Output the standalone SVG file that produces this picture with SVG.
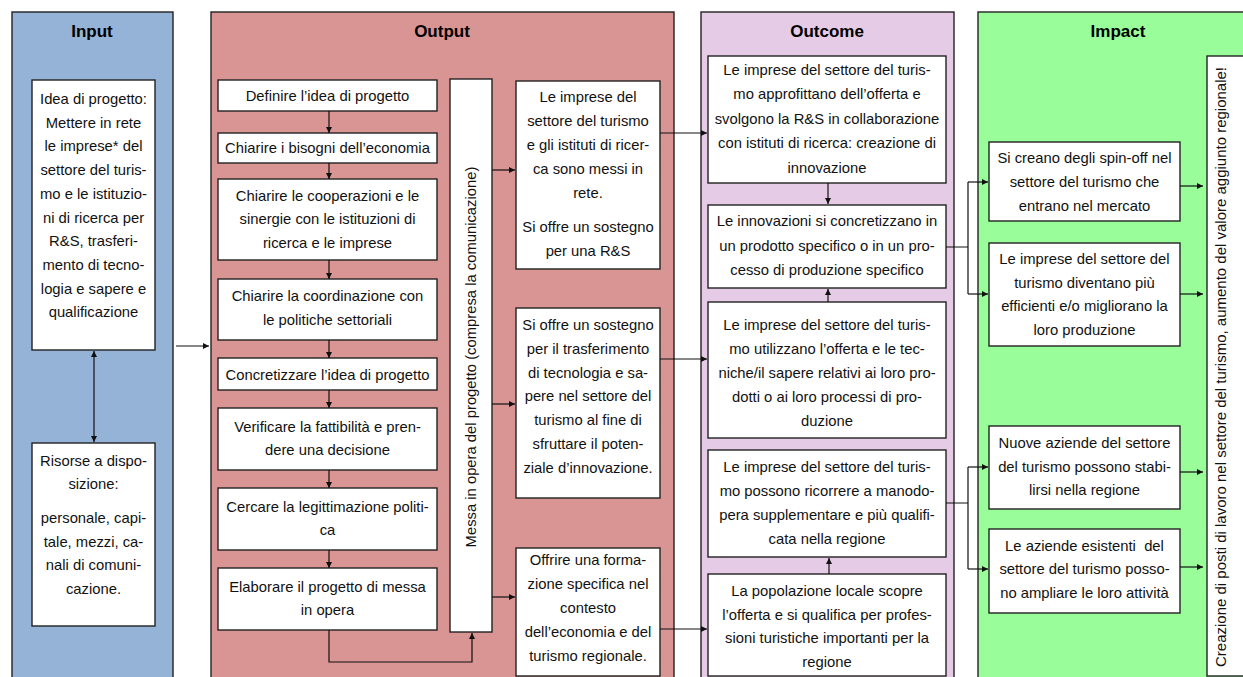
<svg xmlns="http://www.w3.org/2000/svg" width="1243" height="677" viewBox="0 0 1243 677">
<style>
.col{stroke:#222;stroke-width:1.4}
.box{fill:#fff;stroke:#222;stroke-width:1.4}
.t{font-family:"Liberation Sans",Arial,sans-serif;font-size:14.8px;fill:#111;text-anchor:middle}
.h{font-family:"Liberation Sans",Arial,sans-serif;font-size:17px;font-weight:bold;fill:#000;text-anchor:middle}
.c{fill:none;stroke:#111;stroke-width:1.2}
</style>
<defs>
<marker id="ah" viewBox="0 0 6 6" refX="6" refY="3" markerWidth="6" markerHeight="6" markerUnits="userSpaceOnUse" orient="auto-start-reverse">
<path d="M0,0 L6,3 L0,6 z" fill="#111"/>
</marker>
</defs>
<rect width="1243" height="677" fill="#fff"/>

<g id="col-input">
<rect class="col" x="12" y="12" width="161" height="690" fill="#95b3d7"/>
<text class="h" x="92" y="37">Input</text>
</g>
<g id="col-output">
<rect class="col" x="211" y="12" width="463" height="690" fill="#d99594"/>
<text class="h" x="442" y="37">Output</text>
</g>
<g id="col-outcome">
<rect class="col" x="701" y="12" width="253" height="690" fill="#e5cbe5"/>
<text class="h" x="827" y="37">Outcome</text>
</g>
<g id="col-impact">
<rect class="col" x="978" y="12" width="290" height="690" fill="#99fd99"/>
<text class="h" x="1118" y="37">Impact</text>
</g>

<g id="in1">
<rect class="box" x="32" y="80" width="123" height="270"/>
<text class="t" x="93.5"><tspan x="93.5" y="104">Idea di progetto:</tspan><tspan x="93.5" y="127.7">Mettere in rete</tspan><tspan x="93.5" y="151.4">le imprese* del</tspan><tspan x="93.5" y="175.1">settore del turis-</tspan><tspan x="93.5" y="198.8">mo e le istituzio-</tspan><tspan x="93.5" y="222.5">ni di ricerca per</tspan><tspan x="93.5" y="246.2">R&amp;S, trasferi-</tspan><tspan x="93.5" y="269.9">mento di tecno-</tspan><tspan x="93.5" y="293.6">logia e sapere e</tspan><tspan x="93.5" y="317.3">qualificazione</tspan></text>
</g>
<g id="in2">
<rect class="box" x="32" y="443" width="123" height="183"/>
<text class="t"><tspan x="93.5" y="466">Risorse a dispo-</tspan><tspan x="93.5" y="489">sizione:</tspan><tspan x="93.5" y="523">personale, capi-</tspan><tspan x="93.5" y="547">tale, mezzi, ca-</tspan><tspan x="93.5" y="570">nali di comuni-</tspan><tspan x="93.5" y="594">cazione.</tspan></text>
</g>

<g id="out1"><rect class="box" x="218" y="80" width="219" height="31"/>
<text class="t" x="327.5" y="101">Definire l’idea di progetto</text></g>
<g id="out2"><rect class="box" x="218" y="133" width="219" height="30"/>
<text class="t" x="327.5" y="153">Chiarire i bisogni dell’economia</text></g>
<g id="out3"><rect class="box" x="218" y="179" width="219" height="81"/>
<text class="t"><tspan x="327.5" y="200.5">Chiarire le cooperazioni e le</tspan><tspan x="327.5" y="224">sinergie con le istituzioni di</tspan><tspan x="327.5" y="248">ricerca e le imprese</tspan></text></g>
<g id="out4"><rect class="box" x="218" y="279" width="219" height="61"/>
<text class="t"><tspan x="327.5" y="301">Chiarire la coordinazione con</tspan><tspan x="327.5" y="324.5">le politiche settoriali</tspan></text></g>
<g id="out5"><rect class="box" x="218" y="358" width="219" height="32"/>
<text class="t" x="327.5" y="380">Concretizzare l’idea di progetto</text></g>
<g id="out6"><rect class="box" x="218" y="408" width="219" height="62"/>
<text class="t"><tspan x="327.5" y="432">Verificare la fattibilità e pren-</tspan><tspan x="327.5" y="454.5">dere una decisione</tspan></text></g>
<g id="out7"><rect class="box" x="218" y="488" width="219" height="62"/>
<text class="t"><tspan x="327.5" y="512">Cercare la legittimazione politi-</tspan><tspan x="327.5" y="535">ca</tspan></text></g>
<g id="out8"><rect class="box" x="218" y="568" width="219" height="62"/>
<text class="t"><tspan x="327.5" y="592">Elaborare il progetto di messa</tspan><tspan x="327.5" y="614.5">in opera</tspan></text></g>

<g id="impl"><rect class="box" x="450" y="79" width="42" height="553"/>
<text class="t" transform="translate(476,357) rotate(-90)" x="0" y="0">Messa in opera del progetto (compresa la comunicazione)</text></g>

<g id="outA"><rect class="box" x="516" y="81" width="144" height="188"/>
<text class="t"><tspan x="588" y="102">Le imprese del</tspan><tspan x="588" y="126">settore del turismo</tspan><tspan x="588" y="150">e gli istituti di ricer-</tspan><tspan x="588" y="174">ca sono messi in</tspan><tspan x="588" y="198">rete.</tspan><tspan x="588" y="232">Si offre un sostegno</tspan><tspan x="588" y="256">per una R&amp;S</tspan></text></g>
<g id="outB"><rect class="box" x="516" y="308" width="144" height="190"/>
<text class="t"><tspan x="588" y="330">Si offre un sostegno</tspan><tspan x="588" y="354">per il trasferimento</tspan><tspan x="588" y="378">di tecnologia e sa-</tspan><tspan x="588" y="401">pere nel settore del</tspan><tspan x="588" y="425">turismo al fine di</tspan><tspan x="588" y="449">sfruttare il poten-</tspan><tspan x="588" y="473">ziale d’innovazione.</tspan></text></g>
<g id="outC"><rect class="box" x="516" y="548" width="144" height="128"/>
<text class="t"><tspan x="588" y="565">Offrire una forma-</tspan><tspan x="588" y="589">zione specifica nel</tspan><tspan x="588" y="613">contesto</tspan><tspan x="588" y="637">dell’economia e del</tspan><tspan x="588" y="661">turismo regionale.</tspan></text></g>

<g id="oc1"><rect class="box" x="708" y="56" width="238" height="127"/>
<text class="t"><tspan x="827" y="75">Le imprese del settore del turis-</tspan><tspan x="827" y="99">mo approfittano dell’offerta e</tspan><tspan x="827" y="123.5">svolgono la R&amp;S in collaborazione</tspan><tspan x="827" y="148">con istituti di ricerca: creazione di</tspan><tspan x="827" y="172.5">innovazione</tspan></text></g>
<g id="oc2"><rect class="box" x="708" y="205" width="238" height="83"/>
<text class="t"><tspan x="827" y="226">Le innovazioni si concretizzano in</tspan><tspan x="827" y="250.5">un prodotto specifico o in un pro-</tspan><tspan x="827" y="275">cesso di produzione specifico</tspan></text></g>
<g id="oc3"><rect class="box" x="708" y="302" width="238" height="136"/>
<text class="t"><tspan x="827" y="330">Le imprese del settore del turis-</tspan><tspan x="827" y="354">mo utilizzano l’offerta e le tec-</tspan><tspan x="827" y="378">niche/il sapere relativi ai loro pro-</tspan><tspan x="827" y="402">dotti o ai loro processi di pro-</tspan><tspan x="827" y="426">duzione</tspan></text></g>
<g id="oc4"><rect class="box" x="708" y="450" width="238" height="107"/>
<text class="t"><tspan x="827" y="472">Le imprese del settore del turis-</tspan><tspan x="827" y="496">mo possono ricorrere a manodo-</tspan><tspan x="827" y="520">pera supplementare e più qualifi-</tspan><tspan x="827" y="543.5">cata nella regione</tspan></text></g>
<g id="oc5"><rect class="box" x="708" y="574" width="238" height="102"/>
<text class="t"><tspan x="827" y="596">La popolazione locale scopre</tspan><tspan x="827" y="620">l’offerta e si qualifica per profes-</tspan><tspan x="827" y="643">sioni turistiche importanti per la</tspan><tspan x="827" y="667">regione</tspan></text></g>

<g id="im1"><rect class="box" x="989" y="142" width="191" height="79"/>
<text class="t"><tspan x="1084.5" y="163">Si creano degli spin-off nel</tspan><tspan x="1084.5" y="187">settore del turismo che</tspan><tspan x="1084.5" y="211">entrano nel mercato</tspan></text></g>
<g id="im2"><rect class="box" x="989" y="243" width="191" height="103"/>
<text class="t"><tspan x="1084.5" y="264">Le imprese del settore del</tspan><tspan x="1084.5" y="288">turismo diventano più</tspan><tspan x="1084.5" y="311">efficienti e/o migliorano la</tspan><tspan x="1084.5" y="335">loro produzione</tspan></text></g>
<g id="im3"><rect class="box" x="989" y="426" width="191" height="83"/>
<text class="t"><tspan x="1084.5" y="448">Nuove aziende del settore</tspan><tspan x="1084.5" y="472">del turismo possono stabi-</tspan><tspan x="1084.5" y="495">lirsi nella regione</tspan></text></g>
<g id="im4"><rect class="box" x="989" y="529" width="191" height="84"/>
<text class="t" xml:space="preserve"><tspan x="1084.5" y="551">Le aziende esistenti  del</tspan><tspan x="1084.5" y="574">settore del turismo posso-</tspan><tspan x="1084.5" y="598">no ampliare le loro attività</tspan></text></g>

<g id="final"><rect class="box" x="1207" y="56" width="50" height="620"/>
<text class="t" transform="translate(1226,367) rotate(-90)" x="0" y="0" textLength="600" lengthAdjust="spacingAndGlyphs">Creazione di posti di lavoro nel settore del turismo, aumento del valore aggiunto regionale!</text></g>

<g id="connectors">
<line class="c" x1="94" y1="351" x2="94" y2="442" marker-start="url(#ah)" marker-end="url(#ah)"/>
<line class="c" x1="176" y1="346" x2="209" y2="346" marker-end="url(#ah)"/>
<line class="c" x1="329" y1="111" x2="329" y2="133" marker-end="url(#ah)"/>
<line class="c" x1="329" y1="163" x2="329" y2="179" marker-end="url(#ah)"/>
<line class="c" x1="329" y1="260" x2="329" y2="279" marker-end="url(#ah)"/>
<line class="c" x1="329" y1="340" x2="329" y2="358" marker-end="url(#ah)"/>
<line class="c" x1="329" y1="390" x2="329" y2="408" marker-end="url(#ah)"/>
<line class="c" x1="329" y1="470" x2="329" y2="488" marker-end="url(#ah)"/>
<line class="c" x1="329" y1="550" x2="329" y2="568" marker-end="url(#ah)"/>
<path class="c" d="M329,630 V662 H472 V633" marker-end="url(#ah)"/>
<line class="c" x1="492" y1="170" x2="515" y2="170" marker-end="url(#ah)"/>
<line class="c" x1="492" y1="404" x2="515" y2="404" marker-end="url(#ah)"/>
<line class="c" x1="492" y1="597" x2="515" y2="597" marker-end="url(#ah)"/>
<line class="c" x1="660" y1="133" x2="707" y2="133" marker-end="url(#ah)"/>
<line class="c" x1="660" y1="359" x2="707" y2="359" marker-end="url(#ah)"/>
<line class="c" x1="660" y1="629" x2="707" y2="629" marker-end="url(#ah)"/>
<line class="c" x1="828" y1="183" x2="828" y2="204" marker-end="url(#ah)"/>
<line class="c" x1="828" y1="302" x2="828" y2="289" marker-end="url(#ah)"/>
<line class="c" x1="829" y1="574" x2="829" y2="558" marker-end="url(#ah)"/>
<path class="c" d="M946,247 H968 M968,182 V294"/>
<line class="c" x1="968" y1="182" x2="988" y2="182" marker-end="url(#ah)"/>
<line class="c" x1="968" y1="294" x2="988" y2="294" marker-end="url(#ah)"/>
<path class="c" d="M946,503 H968 M968,467 V569"/>
<line class="c" x1="968" y1="467" x2="988" y2="467" marker-end="url(#ah)"/>
<line class="c" x1="968" y1="569" x2="988" y2="569" marker-end="url(#ah)"/>
<line class="c" x1="1180" y1="186" x2="1203" y2="186" marker-end="url(#ah)"/>
<line class="c" x1="1180" y1="294" x2="1203" y2="294" marker-end="url(#ah)"/>
<line class="c" x1="1180" y1="472" x2="1203" y2="472" marker-end="url(#ah)"/>
<line class="c" x1="1180" y1="567" x2="1203" y2="567" marker-end="url(#ah)"/>
</g>
</svg>
